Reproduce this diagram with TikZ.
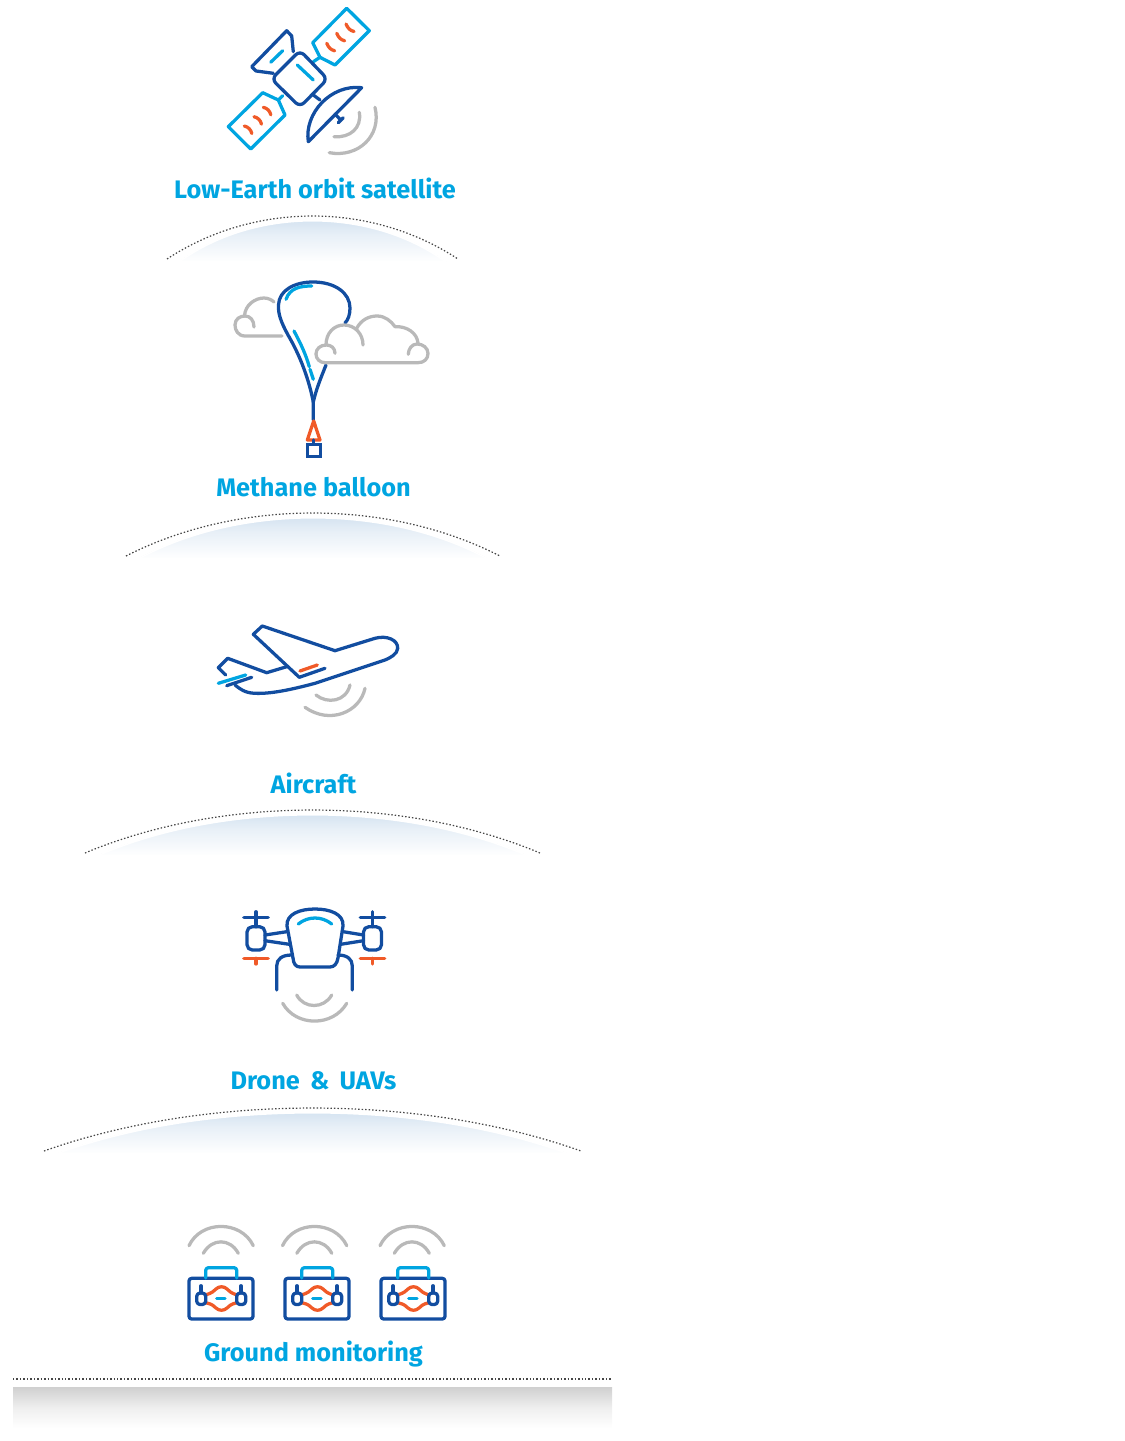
\documentclass[tikz,border=0pt]{standalone}
\usepackage{fontspec}
\setmainfont{Fira Sans}
\definecolor{iconblue}{RGB}{18, 77, 160}
\definecolor{iconcyan}{RGB}{0, 165, 225}
\definecolor{iconorange}{RGB}{240, 90, 40}
\definecolor{icongray}{RGB}{185, 185, 185}
\definecolor{domeblue}{RGB}{196, 216, 235}
\definecolor{bandgray}{RGB}{208, 208, 208}
\definecolor{linegray}{RGB}{70, 70, 70}
\tikzset{
    iconline/.style={line width=2.45pt, line cap=round, line join=round},
    bluepath/.style={iconline, draw=iconblue},
    cyanpath/.style={iconline, draw=iconcyan},
    orangepath/.style={iconline, draw=iconorange},
    graypath/.style={iconline, draw=icongray},
    levellabel/.style={font=\fontsize{19}{22}\selectfont\bfseries, text=iconcyan, inner sep=0pt, anchor=base},
    horizon/.style={draw=linegray, line width=0.9pt, dash pattern=on 1.1pt off 1.5pt},
}
\begin{document}
\begin{tikzpicture}[x=0.75pt, y=-0.75pt]
    \useasboundingbox (0,0) rectangle (1124,1441);

    \foreach \xa/\xb/\yb in {167/458/259, 126/500/556, 85/540/853, 44/581/1151} {
        \fill[top color=domeblue, bottom color=white, middle color=domeblue!40, draw=white, line width=1.2pt]
            ({\xa+12},{\yb+3}) .. controls ({\xa+0.3*(\xb-\xa)},{\yb-52}) and ({\xb-0.3*(\xb-\xa)},{\yb-52}) .. ({\xb-12},{\yb+3}) -- cycle;
        \draw[horizon]
            (\xa,\yb) .. controls ({\xa+0.3*(\xb-\xa)},{\yb-57.3}) and ({\xb-0.3*(\xb-\xa)},{\yb-57.3}) .. (\xb,\yb);
    }
    \fill[top color=bandgray, bottom color=white, middle color=bandgray!35] (13,1387) rectangle (612,1428);
    \draw[horizon] (13,1379) -- (612,1379);

    \node[levellabel] (satlabel) at (315,198) {Low-Earth orbit satellite};
    \node[levellabel] (balloonlabel) at (313.5,496) {Methane balloon};
    \node[levellabel] (aircraftlabel) at (313.5,793) {Aircraft};
    \node[levellabel] (dronelabel) at (313.5,1089) {Drone\, \&\, UAVs};
    \node[levellabel] (groundlabel) at (313.5,1361) {Ground monitoring};

    % satellite
    \draw[cyanpath] (346.7,8.3) -- (369.3,30.7) -- (335,65) -- (320,57.3) -- (312.7,42.7) -- cycle;
    \draw[cyanpath] (262.7,92.7) -- (278.3,100) -- (285,115) -- (250.7,149) -- (228.3,126.7) -- cycle;
    \draw[cyanpath] (313.3,61.7) -- (320,57.3);
    \draw[cyanpath] (278.3,100) -- (282.7,95.7);
    \draw[bluepath, rounded corners=4.5pt] (300,50.5) -- (327.5,79) -- (300,107) -- (271.5,79) -- cycle;
    \draw[bluepath] (273.3,73.3) -- (256,71) -- (251.7,66.7) -- (286.7,30.7) -- (291.7,36) -- (293.3,51.7);
    \draw[cyanpath] (270.7,62.3) -- (282.7,50.7);
    \draw[cyanpath] (297.3,65) -- (313.3,80);
    \draw[bluepath] (308.3,141.7) .. controls (304,113.3) and (331,84) .. (361.7,87.7) -- cycle;
    \draw[bluepath] (313.3,95) -- (320,100);
    \draw[bluepath] (335,114) -- (340.7,120);
    \draw[bluepath] (338.3,122.7) -- (343.3,117.7);
    \draw[graypath] (334,136.7) .. controls (350,138) and (362,128) .. (359.3,112.3);
    \draw[graypath] (329.3,152.7) .. controls (358,158) and (382,136) .. (375,107.3);
    \foreach \xs/\ys in {326.7/43.3, 336.7/33.3, 346/24} {
        \draw[orangepath] (\xs,\ys) .. controls ({\xs+2},{\ys+4.5}) and ({\xs+4},{\ys+6.5}) .. ({\xs+8},{\ys+7.5});
    }
    \foreach \xs/\ys in {244.3/126, 254/116.7, 263.3/107.3} {
        \draw[orangepath] (\xs,\ys) .. controls ({\xs+4},{\ys+1}) and ({\xs+6.5},{\ys+3.5}) .. ({\xs+7.5},{\ys+7.5});
    }

    % balloon
    \draw[bluepath] (313.3,402) .. controls (308,375) and (298,352) .. (288,335) .. controls (281,322) and (278,314) .. (278.5,305) .. controls (279,290) and (295,282) .. (313,282) .. controls (335,282) and (350,293) .. (350,308) .. controls (350,315) and (348,320) .. (345,323);
    \draw[bluepath] (326,365) .. controls (320,380) and (316,390) .. (313.3,402) -- (313.3,420);
    \draw[cyanpath] (286,299.3) .. controls (290,288) and (300,286) .. (311.7,286);
    \draw[cyanpath] (294,331) .. controls (301,344) and (306,355) .. (309.3,366.7);
    \draw[cyanpath] (310,369.3) -- (313.3,379.3);
    \draw[orangepath] (313.7,421) -- (320,440) -- (307.3,440) -- cycle;
    \draw[bluepath] (313.7,440) -- (313.7,444.3);
    \draw[bluepath, line join=miter] (307.3,444.3) rectangle (320.7,456.7);
    \draw[graypath] (282,336) -- (245,336) .. controls (238,336) and (235,330) .. (235,325) .. controls (235,319) and (240,316) .. (245,316) .. controls (250,316) and (254,320) .. (254,327);
    \draw[graypath] (244.5,316) .. controls (245,305) and (255,298) .. (264,298) .. controls (268,298) and (272,300) .. (274,302);
    \draw[graypath] (335,353.3) .. controls (335,348) and (331,345) .. (326.5,345) .. controls (320,345) and (316,349) .. (316,354) .. controls (316,359) and (320,362.7) .. (325,362.7) -- (418,362.7) .. controls (424,362.7) and (428,359) .. (428,353.5) .. controls (428,348) and (423,344) .. (417,344) .. controls (412,344) and (408.3,349) .. (408.3,354.3);
    \draw[graypath] (326,345) .. controls (326,333) and (334,325) .. (344,325) .. controls (355,325) and (363,334) .. (363,345);
    \draw[graypath] (356.7,328.3) .. controls (361,320) and (369,316) .. (377,316) .. controls (385,316) and (391,321) .. (395,326.7) .. controls (407,326) and (417,333) .. (418,343);

    % aircraft
    \draw[bluepath] (325,668.3) -- (299.3,677.3) -- (253.3,634.3) -- (262.3,626) -- (335,650.7) -- (375,638.3) .. controls (387,635) and (398,640) .. (397.7,648.3) .. controls (397.5,654) and (390,658) .. (385,660) -- (315,683.3) .. controls (290,690) and (270,694) .. (255,693.3) .. controls (245,693) and (240,689) .. (235,685);
    \draw[bluepath] (286.7,666.7) -- (266.7,672.7) -- (227.7,658.3) -- (218.3,667.7) -- (225.7,675);
    \draw[bluepath] (226.7,685.7) -- (251.7,677.3);
    \draw[cyanpath] (218.3,683.3) -- (245.7,675);
    \draw[orangepath] (300,671) -- (317.3,665);
    \draw[graypath] (316,695) .. controls (327,704) and (346,702) .. (350,685);
    \draw[graypath] (305,707.3) .. controls (330,725) and (360,712) .. (365,688.3);

    % drone
    \draw[bluepath] (287,926) .. controls (286,914) and (300,909) .. (315,909) .. controls (330,909) and (344,914) .. (343,926) -- (338,958) .. controls (337,964) and (334,967) .. (330,967) -- (300,967) .. controls (296,967) and (293.5,964) .. (293,958) -- cycle;
    \draw[cyanpath] (298.3,924) .. controls (308,916) and (322,916) .. (331.7,924);
    \foreach \xc in {256,372.5} {
        \draw[bluepath, rounded corners=4pt] ({\xc-9},926.7) rectangle ({\xc+9},950);
        \draw[bluepath] (\xc,911.7) -- (\xc,926.7);
        \draw[bluepath] ({\xc-12.2},917.7) -- ({\xc+12.2},917.7);
        \draw[orangepath] ({\xc-12.2},958.3) -- ({\xc+12.2},958.3);
        \draw[orangepath] (\xc,958.3) -- (\xc,964);
    }
    \draw[bluepath] (265,935) -- (286.7,931.7);
    \draw[bluepath] (265,940.7) -- (289.3,944.3);
    \draw[bluepath] (343.3,931.7) -- (363.5,935);
    \draw[bluepath] (340.7,944.3) -- (363.5,940.7);
    \draw[bluepath] (276.7,990) -- (276.7,966) .. controls (276.7,959) and (282,955) .. (291.7,955);
    \draw[bluepath] (352.3,990) -- (352.3,966) .. controls (352.3,959) and (347,955) .. (338,955);
    \draw[graypath] (296.7,995) .. controls (304,1009) and (324,1009) .. (331.7,995);
    \draw[graypath] (282.7,1003.3) .. controls (296,1027) and (333,1027) .. (346.7,1003.3);

    % ground stations
    \foreach \dx/\ax in {0/0, 96/93.5, 192/191} {
        \begin{scope}[xshift=\dx*0.75pt]
            \draw[bluepath, rounded corners=2pt] (189,1278.3) rectangle (253,1319);
            \draw[cyanpath, rounded corners=2pt] (205.7,1278) -- (205.7,1267.7) -- (236.7,1267.7) -- (236.7,1278);
            \draw[orangepath] (206,1294.8) .. controls (212,1293) and (214,1291) .. (216,1289) .. controls (219,1286) and (224,1286) .. (227,1289) .. controls (229,1291) and (231,1293) .. (236.5,1294.8);
            \draw[orangepath] (206,1302.8) .. controls (212,1304) and (214,1306) .. (216,1308) .. controls (219,1311) and (224,1311) .. (227,1308) .. controls (229,1306) and (231,1304) .. (236.5,1302.8);
            \draw[bluepath, rounded corners=2.5pt] (196.7,1293) rectangle (205.7,1304.5);
            \draw[bluepath, rounded corners=2.5pt] (236.7,1293) rectangle (245.7,1304.5);
            \draw[bluepath] (201,1285.7) -- (201,1293);
            \draw[bluepath] (241,1285.7) -- (241,1293);
            \draw[cyanpath] (216.7,1298.5) -- (225,1298.5);
        \end{scope}
        \begin{scope}[xshift=\ax*0.75pt]
            \draw[graypath] (189,1245.7) .. controls (201,1220) and (241,1220) .. (253.3,1245.7);
            \draw[graypath] (203.3,1253.3) .. controls (212,1238) and (230,1238) .. (238.3,1253.3);
        \end{scope}
    }
\end{tikzpicture}
\end{document}
